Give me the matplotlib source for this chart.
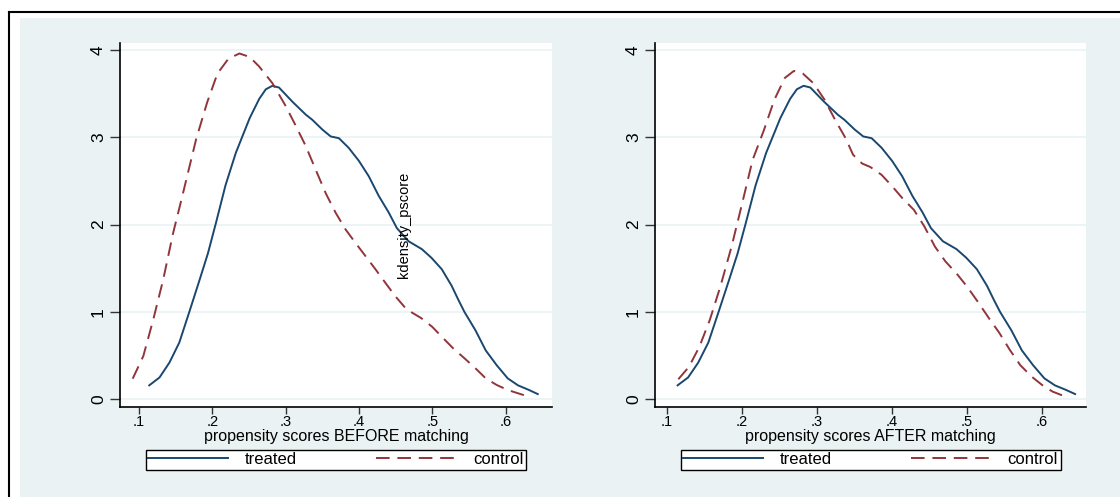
import numpy as np
import matplotlib
matplotlib.use("Agg")
import matplotlib.pyplot as plt
from matplotlib.patches import Rectangle
from matplotlib.lines import Line2D

plt.rcParams['font.family'] = ['Liberation Sans', 'DejaVu Sans']

# kernel density of the propensity score
treated_x = [0.114, 0.128, 0.1415, 0.155, 0.169, 0.182, 0.194, 0.205, 0.218, 0.232,
             0.251, 0.264, 0.273, 0.282, 0.291, 0.309, 0.3275, 0.3365, 0.350, 0.3615,
             0.3727, 0.386, 0.400, 0.4134, 0.427, 0.4406, 0.4518, 0.4677, 0.4858, 0.499,
             0.513, 0.5265, 0.5356, 0.544, 0.559, 0.573, 0.588, 0.603, 0.617, 0.632,
             0.644]
treated_y = [0.16, 0.25, 0.42, 0.65, 1.01, 1.35, 1.67, 2.02, 2.45, 2.82,
             3.22, 3.44, 3.55, 3.59, 3.57, 3.41, 3.26, 3.20, 3.09, 3.01,
             2.99, 2.88, 2.73, 2.555, 2.33, 2.14, 1.96, 1.81, 1.72, 1.62,
             1.49, 1.30, 1.14, 1.00, 0.79, 0.56, 0.39, 0.24, 0.16, 0.107,
             0.06]

before_x = [0.0914, 0.1059, 0.1195, 0.133, 0.1466, 0.158, 0.167, 0.178, 0.193, 0.207,
            0.222, 0.237, 0.251, 0.264, 0.282, 0.300, 0.314, 0.3275, 0.341, 0.3547,
            0.368, 0.3818, 0.3954, 0.409, 0.4225, 0.436, 0.4497, 0.463, 0.471, 0.485,
            0.500, 0.515, 0.529, 0.544, 0.559, 0.573, 0.588, 0.603, 0.617, 0.632]
before_y = [0.236, 0.495, 0.914, 1.37, 1.905, 2.29, 2.60, 2.98, 3.40, 3.73,
            3.90, 3.96, 3.92, 3.81, 3.62, 3.36, 3.13, 2.90, 2.63, 2.36,
            2.14, 1.945, 1.79, 1.64, 1.49, 1.335, 1.18, 1.05, 1.00, 0.93,
            0.83, 0.70, 0.58, 0.47, 0.355, 0.24, 0.164, 0.107, 0.069, 0.03]

after_x = [0.115, 0.129, 0.143, 0.157, 0.171, 0.186, 0.200, 0.214, 0.229, 0.243,
           0.257, 0.269, 0.281, 0.295, 0.310, 0.324, 0.338, 0.348, 0.360, 0.371,
           0.386, 0.400, 0.414, 0.429, 0.443, 0.457, 0.471, 0.486, 0.500, 0.514,
           0.529, 0.543, 0.557, 0.571, 0.586, 0.600, 0.614, 0.629]
after_y = [0.23, 0.37, 0.60, 0.91, 1.29, 1.75, 2.24, 2.74, 3.08, 3.43,
           3.68, 3.76, 3.73, 3.62, 3.43, 3.20, 2.99, 2.80, 2.70, 2.66,
           2.57, 2.44, 2.30, 2.17, 1.98, 1.75, 1.58, 1.44, 1.29, 1.12,
           0.93, 0.76, 0.565, 0.39, 0.26, 0.164, 0.088, 0.038]

xticks = [0.1, 0.2, 0.3, 0.4, 0.5, 0.6]
xtick_labels = ['.1', '.2', '.3', '.4', '.5', '.6']
yticks = [0, 1, 2, 3, 4]

navy = '#1a476f'
maroon = '#90353b'
bg = '#eaf2f3'

W, H = 1120, 497
fig = plt.figure(figsize=(W / 100, H / 100), dpi=100)
fig.patch.set_facecolor('white')

# stata style outer frame and light background
fig.add_artist(Rectangle((20 / W, 0), 1 - 20 / W, 1 - 18 / H, transform=fig.transFigure,
                         facecolor=bg, edgecolor='none', zorder=0))
fig.add_artist(Line2D([9 / W, 1], [1 - 12 / H, 1 - 12 / H], transform=fig.transFigure,
                      color='black', lw=1.5))
fig.add_artist(Line2D([9 / W, 9 / W], [0, 1 - 12 / H], transform=fig.transFigure,
                      color='black', lw=1.5))


def panel(left, width, xlim, ctrl_x, ctrl_y, xlabel):
    ax = fig.add_axes([left / W, 1 - 407 / H, width / W, 364 / H])
    ax.set_facecolor('white')
    ax.plot(treated_x, treated_y, color=navy, lw=1.4, label='treated')
    ax.plot(ctrl_x, ctrl_y, color=maroon, lw=1.4, dashes=(7, 4), label='control')
    ax.set_xlim(*xlim)
    ax.set_ylim(-0.088, 4.08)
    ax.set_xticks(xticks)
    ax.set_xticklabels(xtick_labels)
    ax.set_yticks(yticks)
    ax.set_yticklabels([str(v) for v in yticks], rotation=90, va='center')
    ax.yaxis.grid(True, color=bg, lw=1.2)
    ax.set_axisbelow(True)
    for s in ['top', 'right']:
        ax.spines[s].set_visible(False)
    for s in ['left', 'bottom']:
        ax.spines[s].set_linewidth(1.2)
        ax.spines[s].set_color('black')
    ax.tick_params(axis='x', length=5, width=1, color='#333333', labelsize=10.5, pad=0.5)
    ax.tick_params(axis='y', length=7, width=1, color='#333333', labelsize=12.5, pad=3)
    ax.set_xlabel(xlabel, fontsize=11.5, labelpad=0)
    cx = (left + width / 2) / W
    ax.legend(loc='center', bbox_to_anchor=(cx - 190 / W, 1 - 471 / H, 380 / W, 23 / H),
              bbox_transform=fig.transFigure, mode='expand', ncol=2, fontsize=12,
              handlelength=4.8, handletextpad=1.0, borderpad=0.15, fancybox=False,
              framealpha=1, edgecolor='black', borderaxespad=0)
    return ax


panel(120, 432, (0.0741, 0.6634), before_x, before_y, 'propensity scores BEFORE matching')
panel(655, 431, (0.0839, 0.6585), after_x, after_y, 'propensity scores AFTER matching')

fig.text(404 / W, 1 - 225 / H, 'kdensity_pscore', rotation=90, ha='center', va='center',
         fontsize=10.5, family=['Liberation Sans Narrow', 'Liberation Sans'])

fig.savefig('out.png', dpi=100, facecolor=fig.get_facecolor())
